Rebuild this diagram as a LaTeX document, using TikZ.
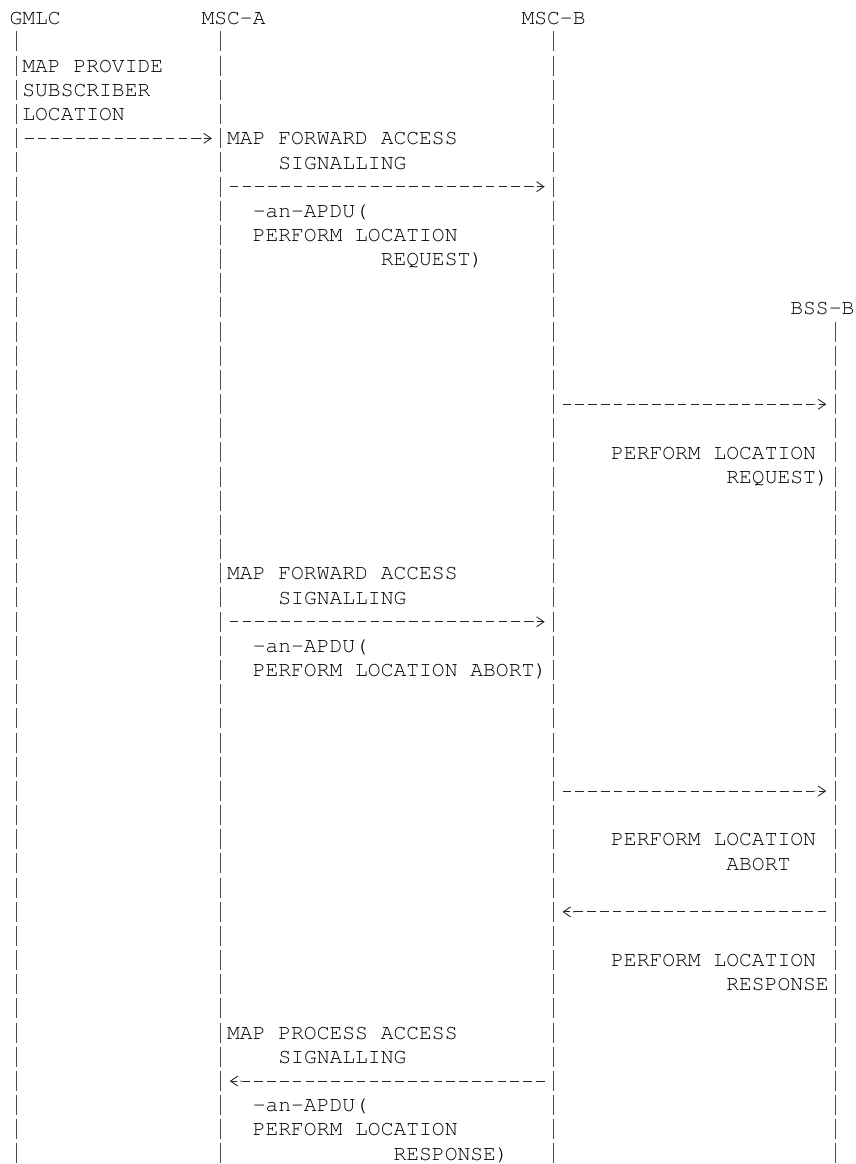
\documentclass[tikz,border=0pt]{standalone}
\usepackage[T1]{fontenc}
\usepackage{tikz}
\usetikzlibrary{arrows.meta}
\newcommand{\asciifont}{\fontencoding{T1}\fontfamily{pcr}\fontseries{m}\fontshape{n}\fontsize{16}{18.13}\selectfont}

\begin{document}
\begin{tikzpicture}[x=9.6pt, y=-18.13pt,
    txt/.style={anchor=base west, inner sep=0pt, outer sep=0pt, font=\asciifont},
    lifeline/.style={draw=black!70, line width=0.65pt, dash pattern=on 15pt off 3.13pt},
    msg/.style={draw=black!85, line width=0.65pt, dash pattern=on 6.5pt off 3.1pt,
      shorten <=6.7pt, shorten >=6.7pt,
      -{Butt Cap[sep=1.5pt] Straight Barb[length=5.5pt, width=7.5pt]}}]
        % page
        \path[use as bounding box, fill=white] (-0.75,-0.993) rectangle (66.125,47.16);

        % entities
        \node[txt] (gmlc-h) at (0,0) {GMLC};
        \node[txt] (msca-h) at (15,0) {MSC-A};
        \node[txt] (mscb-h) at (40,0) {MSC-B};
        \node[txt] (bssb-h) at (61,12) {BSS-B};

        % lifelines
        \foreach \n/\x/\r in {gmlc/0.5/1, msca/16.5/1, mscb/42.5/1, bssb/64.5/13} {
            \coordinate (\n) at (\x,\r-0.69);
            \coordinate (\n-end) at (\x,47.16);
            \draw[lifeline] (\n) -- (\n-end);
        }

        % messages
        \draw[msg] (gmlc |- 0,4.73) -- (msca |- 0,4.73);
        \draw[msg] (msca |- 0,6.73) -- (mscb |- 0,6.73);
        \draw[msg] (mscb |- 0,15.73) -- (bssb |- 0,15.73);
        \draw[msg] (msca |- 0,24.73) -- (mscb |- 0,24.73);
        \draw[msg] (mscb |- 0,31.73) -- (bssb |- 0,31.73);
        \draw[msg] (bssb |- 0,36.73) -- (mscb |- 0,36.73);
        \draw[msg] (mscb |- 0,43.73) -- (msca |- 0,43.73);

        % labels
        \node[txt] (psl-1) at (1,2) {MAP PROVIDE};
        \node[txt] (psl-2) at (1,3) {SUBSCRIBER};
        \node[txt] (psl-3) at (1,4) {LOCATION};
        \node[txt] (fas1-1) at (17,5) {MAP FORWARD ACCESS};
        \node[txt] (fas1-2) at (21,6) {SIGNALLING};
        \node[txt] (req-1) at (19,8) {-an-APDU(};
        \node[txt] (req-2) at (19,9) {PERFORM LOCATION};
        \node[txt] (req-3) at (29,10) {REQUEST)};
        \node[txt] (breq-1) at (47,18) {PERFORM LOCATION};
        \node[txt] (breq-2) at (56,19) {REQUEST)};
        \node[txt] (fas2-1) at (17,23) {MAP FORWARD ACCESS};
        \node[txt] (fas2-2) at (21,24) {SIGNALLING};
        \node[txt] (abt-1) at (19,26) {-an-APDU(};
        \node[txt] (abt-2) at (19,27) {PERFORM LOCATION ABORT)};
        \node[txt] (babt-1) at (47,34) {PERFORM LOCATION};
        \node[txt] (babt-2) at (56,35) {ABORT};
        \node[txt] (bres-1) at (47,39) {PERFORM LOCATION};
        \node[txt] (bres-2) at (56,40) {RESPONSE};
        \node[txt] (pas-1) at (17,42) {MAP PROCESS ACCESS};
        \node[txt] (pas-2) at (21,43) {SIGNALLING};
        \node[txt] (res-1) at (19,45) {-an-APDU(};
        \node[txt] (res-2) at (19,46) {PERFORM LOCATION};
        \node[txt] (res-3) at (30,47) {RESPONSE)};
    \end{tikzpicture}
\end{document}
